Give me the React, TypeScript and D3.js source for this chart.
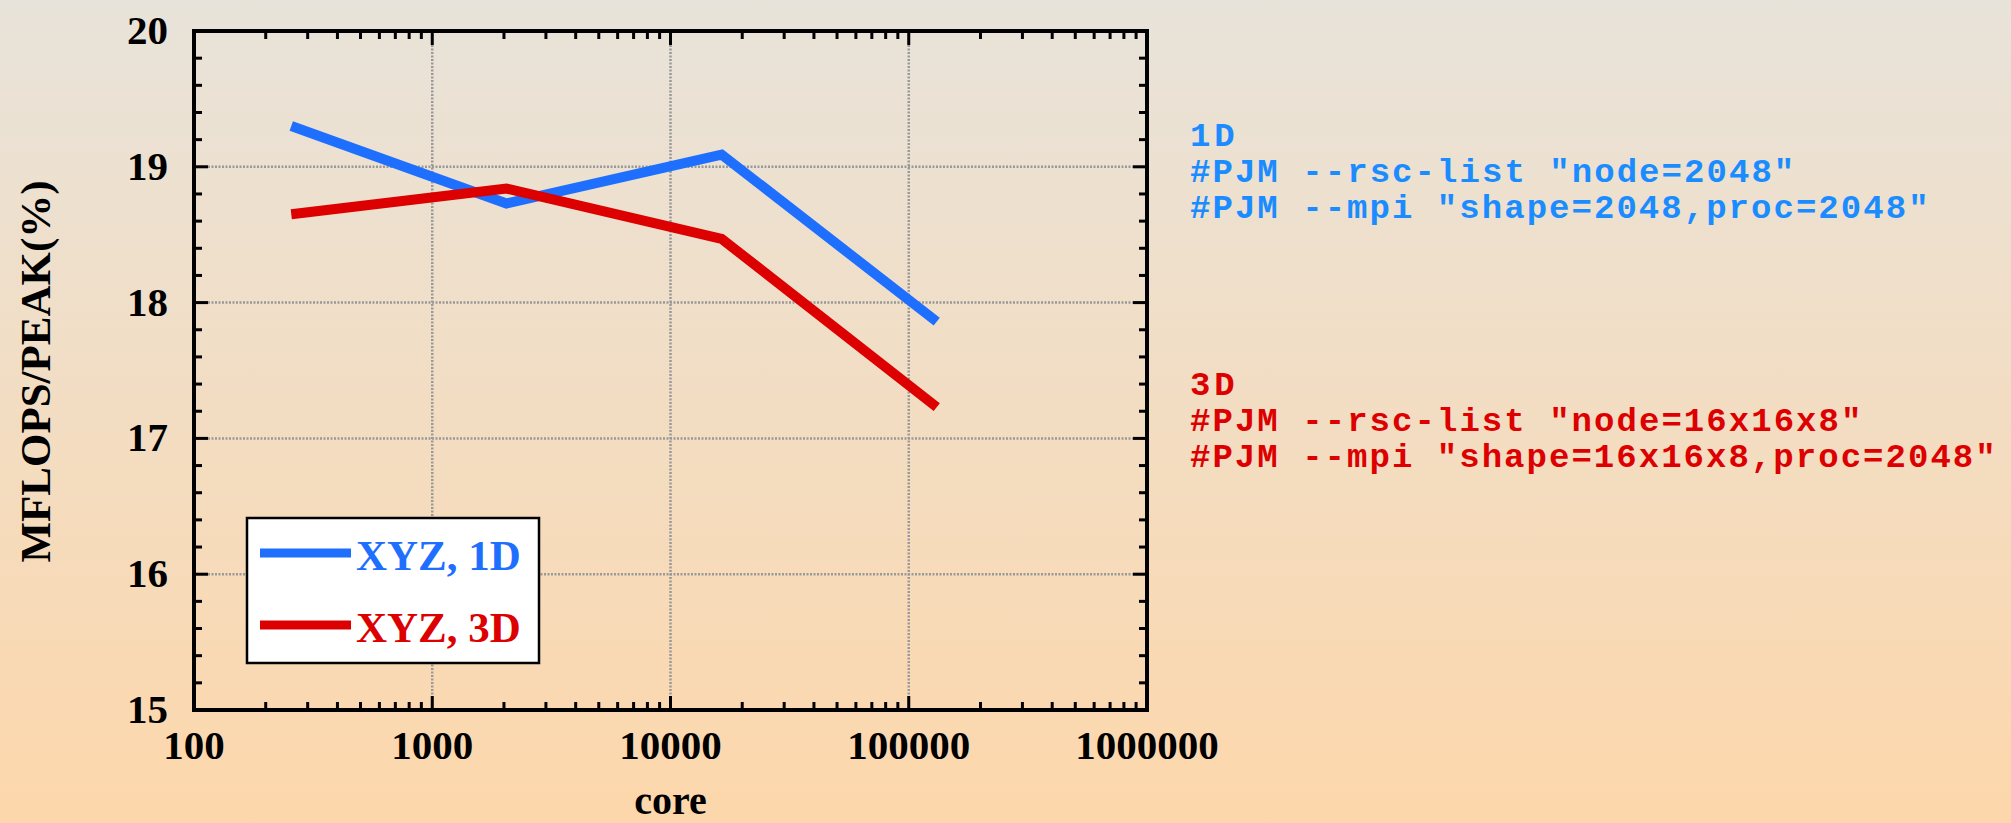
import React from "react";
import * as d3 from "d3";

const cores = [256, 2048, 16384, 131072];
const xyz1D = [19.3, 18.73, 19.09, 17.86];
const xyz3D = [18.65, 18.84, 18.47, 17.23];
const seriesNames = ["XYZ, 1D", "XYZ, 3D"];
const xTickValues = [100, 1000, 10000, 100000, 1000000];
const yTickValues = [15, 16, 17, 18, 19, 20];
const notes1D = ["1D", '#PJM --rsc-list "node=2048\u2033', '#PJM --mpi "shape=2048,proc=2048"'];
const notes3D = ["3D", '#PJM --rsc-list "node=16x16x8\u2033', '#PJM --mpi "shape=16x16x8,proc=2048"'];

const W = 2011;
const H = 823;
const L = 194, R = 1147, T = 31, B = 710;
const BLUE = "#1f6fff";
const RED = "#dd0000";
const BLUE_TXT = "#1a8cff";
const SERIF = "'Liberation Serif', 'Times New Roman', serif";
const MONO = "'Liberation Mono', 'Courier New', monospace";
const CHAR_W = 0.6 * 37.3;

export default function App() {
  const x = d3.scaleLog().domain([100, 1000000]).range([L, R]);
  const y = d3.scaleLinear().domain([15, 20]).range([B, T]);
  const line = d3
    .line<[number, number]>()
    .x((d) => x(d[0]))
    .y((d) => y(d[1]));

  const minorX: number[] = [];
  for (let p = 2; p < 6; p++) {
    for (let m = 2; m <= 9; m++) minorX.push(m * Math.pow(10, p));
  }
  const minorY: number[] = [];
  for (let v = 15; v < 20; v++) {
    for (let k = 1; k <= 4; k++) minorY.push(v + k * 0.2);
  }
  const gridX = [1000, 10000, 100000];
  const gridY = [16, 17, 18, 19];
  const MAJ = 14, MIN = 8;

  const d1 = cores.map((c, i) => [c, xyz1D[i]] as [number, number]);
  const d3d = cores.map((c, i) => [c, xyz3D[i]] as [number, number]);

  return (
    <svg
      width={W}
      height={H}
      style={{ position: "absolute", left: 0, top: 0, display: "block" }}
    >
      <defs>
        <linearGradient id="bg" x1="0" y1="0" x2="0" y2="1">
          <stop offset="0" stopColor="#e8e3da" />
          <stop offset="1" stopColor="#fdd7ab" />
        </linearGradient>
      </defs>
      <rect x={0} y={0} width={W} height={H} fill="url(#bg)" />

      {/* grid */}
      {gridX.map((v) => (
        <line key={"gx" + v} x1={x(v)} x2={x(v)} y1={T} y2={B} stroke="#999" strokeWidth={2.5} strokeDasharray="2 1.5" />
      ))}
      {gridY.map((v) => (
        <line key={"gy" + v} x1={L} x2={R} y1={y(v)} y2={y(v)} stroke="#999" strokeWidth={2.5} strokeDasharray="2 1.5" />
      ))}

      {/* ticks */}
      <g stroke="#000" strokeWidth={3}>
        {xTickValues.map((v) => (
          <g key={"xt" + v}>
            <line x1={x(v)} x2={x(v)} y1={B} y2={B - MAJ} />
            <line x1={x(v)} x2={x(v)} y1={T} y2={T + MAJ} />
          </g>
        ))}
        {minorX.map((v) => (
          <g key={"xm" + v}>
            <line x1={x(v)} x2={x(v)} y1={B} y2={B - MIN} />
            <line x1={x(v)} x2={x(v)} y1={T} y2={T + MIN} />
          </g>
        ))}
        {yTickValues.map((v) => (
          <g key={"yt" + v}>
            <line x1={L} x2={L + MAJ} y1={y(v)} y2={y(v)} />
            <line x1={R} x2={R - MAJ} y1={y(v)} y2={y(v)} />
          </g>
        ))}
        {minorY.map((v) => (
          <g key={"ym" + v}>
            <line x1={L} x2={L + MIN} y1={y(v)} y2={y(v)} />
            <line x1={R} x2={R - MIN} y1={y(v)} y2={y(v)} />
          </g>
        ))}
      </g>

      {/* frame */}
      <rect x={L} y={T} width={R - L} height={B - T} fill="none" stroke="#000" strokeWidth={4} />

      {/* tick labels */}
      {xTickValues.map((v) => (
        <text key={"xl" + v} x={x(v)} y={759} textAnchor="middle" fontFamily={SERIF} fontWeight="bold" fontSize={41}>
          {String(v)}
        </text>
      ))}
      {yTickValues.map((v) => (
        <text key={"yl" + v} x={168} y={y(v) + 13} textAnchor="end" fontFamily={SERIF} fontWeight="bold" fontSize={41}>
          {String(v)}
        </text>
      ))}

      <text x={(L + R) / 2} y={814} textAnchor="middle" fontFamily={SERIF} fontWeight="bold" fontSize={40}>
        core
      </text>
      <text
        transform={`translate(50, ${(T + B) / 2 + 1}) rotate(-90)`}
        textAnchor="middle"
        fontFamily={SERIF}
        fontWeight="bold"
        fontSize={43}
      >
        MFLOPS/PEAK(%)
      </text>

      {/* data */}
      <path d={line(d1) || ""} fill="none" stroke={BLUE} strokeWidth={10} strokeLinejoin="miter" />
      <path d={line(d3d) || ""} fill="none" stroke={RED} strokeWidth={10} strokeLinejoin="miter" />

      {/* legend */}
      <rect x={247} y={518} width={292} height={145} fill="#fff" stroke="#000" strokeWidth={2.5} />
      <line x1={260} x2={351} y1={553} y2={553} stroke={BLUE} strokeWidth={9} />
      <text x={356} y={570} fontFamily={SERIF} fontWeight="bold" fontSize={43} fill={BLUE}>
        {seriesNames[0]}
      </text>
      <line x1={260} x2={351} y1={625} y2={625} stroke={RED} strokeWidth={9} />
      <text x={356} y={642} fontFamily={SERIF} fontWeight="bold" fontSize={43} fill={RED}>
        {seriesNames[1]}
      </text>

      {/* notes */}
      {notes1D.map((t, i) => (
        <text
          key={"n1" + i}
          x={1190}
          y={146 + i * 36}
          fontFamily={MONO}
          fontWeight="bold"
          fontSize={34}
          textLength={t.length * CHAR_W}
          lengthAdjust="spacing"
          fill={BLUE_TXT}
          style={{ whiteSpace: "pre" }}
        >
          {t}
        </text>
      ))}
      {notes3D.map((t, i) => (
        <text
          key={"n3" + i}
          x={1190}
          y={395 + i * 36}
          fontFamily={MONO}
          fontWeight="bold"
          fontSize={34}
          textLength={t.length * CHAR_W}
          lengthAdjust="spacing"
          fill={RED}
          style={{ whiteSpace: "pre" }}
        >
          {t}
        </text>
      ))}
    </svg>
  );
}
